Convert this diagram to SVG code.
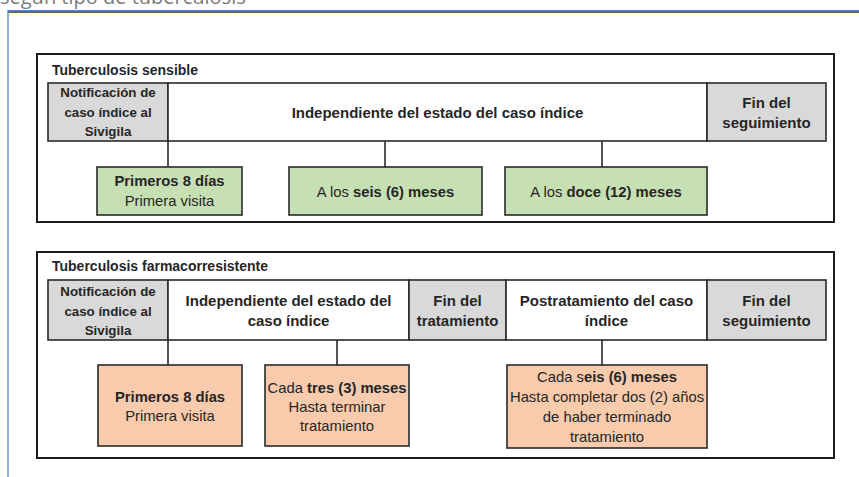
<svg xmlns="http://www.w3.org/2000/svg" width="859" height="477" viewBox="0 0 859 477">
<style>
text{font-family:"Liberation Sans",Arial,sans-serif;fill:#262626;text-anchor:middle}
.b{font-weight:bold}
.t{font-size:14px;font-weight:bold;text-anchor:start}
.h{font-size:15px;font-weight:bold}
.n{font-size:13.3px;font-weight:bold}
.s{font-size:14.8px}
.panel{fill:#fff;stroke:#1c1c1c;stroke-width:2}
.gray{fill:#d9d9d9;stroke:#2a2a2a;stroke-width:1.6}
.white{fill:#fff;stroke:#2a2a2a;stroke-width:1.6}
.green{fill:#c6e0b4;stroke:#2a2a2a;stroke-width:1.6}
.salmon{fill:#f8cbad;stroke:#2a2a2a;stroke-width:1.6}
.conn line{stroke:#2a2a2a;stroke-width:1.6}
</style>
<rect width="859" height="477" fill="#fff"/>
<text x="0" y="4" style="font-family:'Open Sans',sans-serif;font-size:20px;fill:#7a7a7a;text-anchor:start">según tipo de tuberculosis</text>
<g id="frame">
<line x1="8" y1="10.5" x2="859" y2="10.5" stroke="#3f8fd6" stroke-width="1.2"/>
<line x1="8" y1="12" x2="859" y2="12" stroke="#333" stroke-width="1.6"/>
<line x1="8" y1="10" x2="8" y2="477" stroke="#5a8fc8" stroke-width="1.4"/>
</g>

<g id="panel-sensible">
<rect class="panel" x="37" y="54" width="797" height="168"/>
<text class="t" x="52" y="75">Tuberculosis sensible</text>
</g>
<g id="s-notif">
<rect class="gray" x="48" y="83" width="120" height="58"/>
<text class="n" x="108" y="97">Notificación de</text>
<text class="n" x="108" y="117">caso índice al</text>
<text class="n" x="108" y="136">Sivigila</text>
</g>
<g id="s-indep">
<rect class="white" x="168" y="83" width="539" height="58"/>
<text class="h" x="437.5" y="118">Independiente del estado del caso índice</text>
</g>
<g id="s-fin">
<rect class="gray" x="707" y="83" width="119" height="58"/>
<text class="h" x="766.5" y="108">Fin del</text>
<text class="h" x="766.5" y="128">seguimiento</text>
</g>
<g id="s-box1">
<rect class="green" x="97" y="167" width="145" height="48"/>
<text class="s b" x="169.5" y="186">Primeros 8 días</text>
<text class="s" x="169.5" y="206">Primera visita</text>
</g>
<g id="s-box2">
<rect class="green" x="289" y="167" width="193" height="48"/>
<text class="s" x="385.5" y="197">A los <tspan class="b">seis (6) meses</tspan></text>
</g>
<g id="s-box3">
<rect class="green" x="505" y="167" width="202" height="48"/>
<text class="s" x="606" y="197">A los <tspan class="b">doce (12) meses</tspan></text>
</g>

<g id="panel-farmaco">
<rect class="panel" x="37" y="252" width="797" height="206"/>
<text class="t" x="52" y="271">Tuberculosis farmacorresistente</text>
</g>
<g id="f-notif">
<rect class="gray" x="48" y="280" width="120" height="60"/>
<text class="n" x="108" y="296">Notificación de</text>
<text class="n" x="108" y="316">caso índice al</text>
<text class="n" x="108" y="335">Sivigila</text>
</g>
<g id="f-indep">
<rect class="white" x="168" y="280" width="241" height="60"/>
<text class="h" x="288.5" y="306">Independiente del estado del</text>
<text class="h" x="288.5" y="326">caso índice</text>
</g>
<g id="f-fintrat">
<rect class="gray" x="409" y="280" width="97" height="60"/>
<text class="h" x="457.5" y="306">Fin del</text>
<text class="h" x="457.5" y="326">tratamiento</text>
</g>
<g id="f-post">
<rect class="white" x="506" y="280" width="201" height="60"/>
<text class="h" x="606.5" y="306">Postratamiento del caso</text>
<text class="h" x="606.5" y="326">índice</text>
</g>
<g id="f-fin">
<rect class="gray" x="707" y="280" width="119" height="60"/>
<text class="h" x="766.5" y="306">Fin del</text>
<text class="h" x="766.5" y="326">seguimiento</text>
</g>
<g id="f-box1">
<rect class="salmon" x="98" y="365" width="144" height="81"/>
<text class="s b" x="170" y="402">Primeros 8 días</text>
<text class="s" x="170" y="421">Primera visita</text>
</g>
<g id="f-box2">
<rect class="salmon" x="265" y="365" width="144" height="81"/>
<text class="s" x="337" y="393">Cada <tspan class="b">tres (3) meses</tspan></text>
<text class="s" x="337" y="412">Hasta terminar</text>
<text class="s" x="337" y="431">tratamiento</text>
</g>
<g id="f-box3">
<rect class="salmon" x="507" y="365" width="200" height="83"/>
<text class="s" x="607" y="382">Cada s<tspan class="b">eis (6) meses</tspan></text>
<text class="s" x="607" y="402">Hasta completar dos (2) años</text>
<text class="s" x="607" y="422">de haber terminado</text>
<text class="s" x="607" y="442">tratamiento</text>
</g>

<g id="connectors" class="conn">
<line x1="168" y1="141" x2="168" y2="167"/>
<line x1="385" y1="141" x2="385" y2="167"/>
<line x1="602" y1="141" x2="602" y2="167"/>
<line x1="168" y1="340" x2="168" y2="365"/>
<line x1="337" y1="340" x2="337" y2="365"/>
<line x1="602" y1="340" x2="602" y2="365"/>
</g>
</svg>
